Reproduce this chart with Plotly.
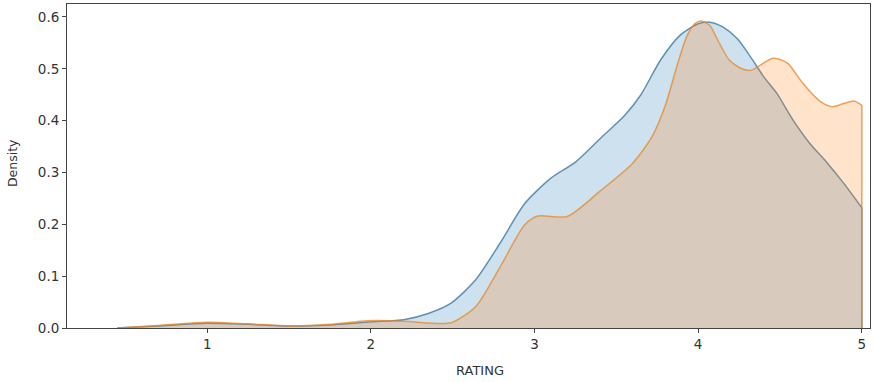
import plotly.graph_objects as go

# Data (KDE of RATING for two groups)
blue_x = [0.45, 0.7, 1.0, 1.25, 1.5, 1.75, 2.0, 2.2, 2.35, 2.49, 2.64, 2.79, 2.94, 3.1, 3.25,
          3.4, 3.55, 3.65, 3.77, 3.89, 4.0, 4.07, 4.15, 4.24, 4.32, 4.4, 4.48, 4.58, 4.68,
          4.79, 4.89, 5.0]
blue_y = [0.0, 0.004, 0.009, 0.007, 0.004, 0.006, 0.012, 0.016, 0.028, 0.048, 0.093, 0.164, 0.24,
          0.289, 0.32, 0.365, 0.41, 0.45, 0.517, 0.565, 0.587, 0.590, 0.581, 0.558, 0.523,
          0.485, 0.453, 0.401, 0.357, 0.318, 0.279, 0.232]

orange_x = [0.45, 0.7, 1.0, 1.25, 1.5, 1.75, 1.98, 2.2, 2.38, 2.49, 2.64, 2.79, 2.94, 3.02, 3.2,
            3.4, 3.6, 3.72, 3.8, 3.87, 3.93, 3.98, 4.02, 4.07, 4.13, 4.19, 4.26, 4.32, 4.38, 4.45,
            4.5, 4.55, 4.64, 4.75, 4.82, 4.89, 4.95, 5.0]
orange_y = [0.0, 0.005, 0.011, 0.008, 0.004, 0.007, 0.014, 0.013, 0.009, 0.01, 0.041, 0.118,
            0.199, 0.216, 0.215, 0.264, 0.318, 0.37, 0.43, 0.505, 0.562, 0.587, 0.592, 0.584,
            0.549, 0.517, 0.501, 0.497, 0.507, 0.52, 0.518, 0.51, 0.472, 0.436, 0.427, 0.433,
            0.438, 0.430]

x_ticks = [1, 2, 3, 4, 5]
y_ticks = [0.0, 0.1, 0.2, 0.3, 0.4, 0.5, 0.6]

BLUE_LINE = "rgba(40,105,150,0.7)"
BLUE_FILL = "rgba(31,119,180,0.22)"
ORANGE_LINE = "rgba(230,135,40,0.75)"
ORANGE_FILL = "rgba(255,127,14,0.22)"

fig = go.Figure()
fig.add_trace(go.Scatter(x=blue_x, y=blue_y, mode="lines", fill="tozeroy",
                         line=dict(color=BLUE_LINE, width=1.5, shape="spline", smoothing=0.7),
                         fillcolor=BLUE_FILL, showlegend=False, hoverinfo="skip"))
fig.add_trace(go.Scatter(x=[blue_x[-1], blue_x[-1]], y=[blue_y[-1], 0], mode="lines",
                         line=dict(color=BLUE_LINE, width=1.5), showlegend=False, hoverinfo="skip"))
fig.add_trace(go.Scatter(x=orange_x, y=orange_y, mode="lines", fill="tozeroy",
                         line=dict(color=ORANGE_LINE, width=1.5, shape="spline", smoothing=0.7),
                         fillcolor=ORANGE_FILL, showlegend=False, hoverinfo="skip"))
fig.add_trace(go.Scatter(x=[orange_x[-1], orange_x[-1]], y=[orange_y[-1], 0], mode="lines",
                         line=dict(color=ORANGE_LINE, width=1.5), showlegend=False, hoverinfo="skip"))

axis_common = dict(showline=True, linecolor="#444444", linewidth=1, mirror=True,
                   ticks="outside", ticklen=4, tickcolor="#444444", showgrid=False,
                   zeroline=False, automargin=False,
                   tickfont=dict(family="DejaVu Sans", size=13.5, color="#333333"))

fig.update_layout(
    width=874, height=382,
    margin=dict(l=67, r=4, t=4, b=54),
    paper_bgcolor="white", plot_bgcolor="white",
    font=dict(family="DejaVu Sans", color="#333333"),
    hovermode=False,
    xaxis=dict(range=[0.143, 5.05], tickvals=x_ticks, ticktext=[str(t) for t in x_ticks],
               **axis_common),
    yaxis=dict(range=[0, 0.625], tickvals=y_ticks, ticktext=[f"{t:.1f}" for t in y_ticks],
               **axis_common),
    annotations=[
        dict(text="RATING", xref="paper", yref="paper", x=0.514, y=-0.1327,
             xanchor="center", yanchor="middle", showarrow=False,
             font=dict(family="DejaVu Sans", size=13, color="#333333")),
        dict(text="Density", xref="paper", yref="paper", x=-0.0685, y=0.509,
             xanchor="center", yanchor="middle", showarrow=False, textangle=-90,
             font=dict(family="DejaVu Sans", size=12.5, color="#333333")),
    ],
)

fig.write_html("out.html", config={"displayModeBar": False},
               post_script="document.body.style.margin='0';document.body.style.overflow='hidden';")
